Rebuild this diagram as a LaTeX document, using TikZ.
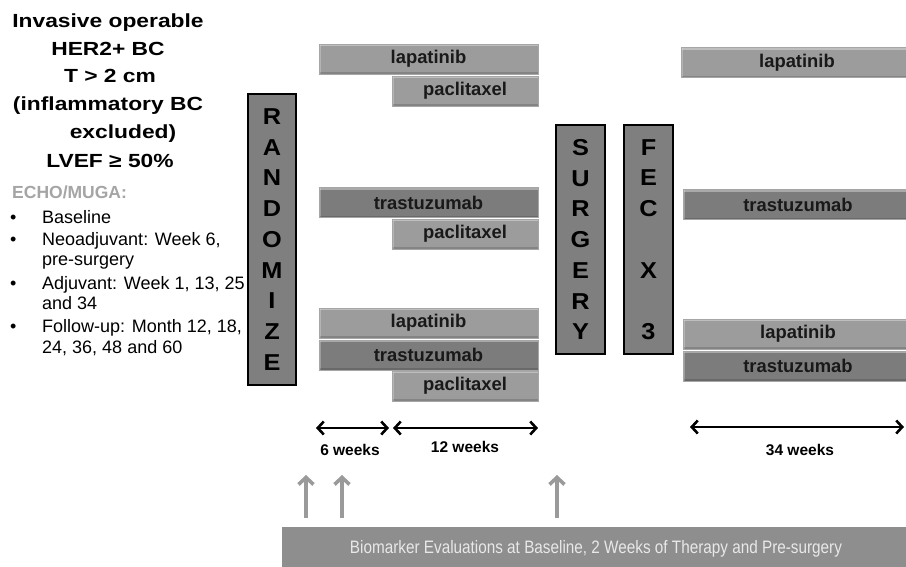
\documentclass[tikz,border=0pt]{standalone}
\usepackage{fontspec}
\setmainfont{Liberation Sans}
\newfontfamily\titlefont[FakeStretch=1.2]{Liberation Sans}
\newfontfamily\letterfont[FakeStretch=1.1]{Liberation Sans}
\newfontfamily\condfont[FakeStretch=0.85]{Liberation Sans}
\usetikzlibrary{arrows.meta}
\definecolor{barlight}{HTML}{9C9C9C}
\definecolor{bardark}{HTML}{7C7C7C}
\definecolor{boxfill}{HTML}{7F7F7F}
\definecolor{biofill}{HTML}{8E8E8E}
\definecolor{upgray}{HTML}{9A9A9A}
\definecolor{echogray}{HTML}{A5A5A5}
\definecolor{biotext}{HTML}{E8E8E8}
\begin{document}
\begin{tikzpicture}[x=1pt,y=-1pt,
  drugbar/.style={rectangle, draw=black!35, line width=0.8pt, fill=#1, inner sep=0pt,
    font=\fontsize{18.4}{20}\selectfont\bfseries, text=black!90, minimum height=30pt,
    path picture={
      \draw[white, opacity=0.35, line width=2pt]
        ([yshift=-1pt]path picture bounding box.north west) -- ([yshift=-1pt]path picture bounding box.north east);
      \draw[white, opacity=0.25, line width=2pt]
        ([xshift=1pt]path picture bounding box.north west) -- ([xshift=1pt]path picture bounding box.south west);
      \draw[black, opacity=0.15, line width=2pt]
        ([yshift=1pt]path picture bounding box.south west) -- ([yshift=1pt]path picture bounding box.south east);}},
  letterbox/.style={rectangle, draw=black, line width=2pt, fill=boxfill, inner sep=0pt,
    align=center, font=\letterfont\bfseries\fontsize{23}{30.75}\selectfont, text=black},
  titleline/.style={anchor=base, inner sep=0pt, font=\titlefont\bfseries\fontsize{19}{22}\selectfont},
  listtext/.style={anchor=base west, inner sep=0pt, font=\fontsize{18}{20}\selectfont},
  weeklabel/.style={anchor=center, inner sep=0pt, font=\bfseries\fontsize{15.5}{17}\selectfont},
  dblarrow/.style={{Straight Barb[length=6pt,width=13pt]}-{Straight Barb[length=6pt,width=13pt]}, line width=2.6pt, draw=black},
  uparrow/.style={-{Straight Barb[length=7pt,width=15pt]}, line width=3.6pt, draw=upgray}
]
\useasboundingbox (0,0) rectangle (906,566);
\fill[white] (0,0) rectangle (906,566);
\clip (0,0) rectangle (906,566);

% Title block
\node[titleline] (t1) at (108,27) {Invasive operable};
\node[titleline] (t2) at (108,55) {HER2+ BC};
\node[titleline] (t3) at (110,82) {T > 2 cm};
\node[titleline] (t4) at (108,110) {(inflammatory BC};
\node[titleline] (t5) at (123,138) {excluded)};
\node[titleline] (t6) at (110,167) {LVEF ≥ 50\%};

% ECHO/MUGA list
\node[anchor=base west, inner sep=0pt, font=\bfseries\fontsize{17.5}{20}\selectfont, text=echogray] (echo) at (12,198) {ECHO/MUGA:};
\node[listtext] (b1) at (10,223) {•};
\node[listtext] (l1) at (42,223) {Baseline};
\node[listtext] (b2) at (10,245) {•};
\node[listtext] (l2) at (42,245) {Neoadjuvant: Week 6,};
\node[listtext] (l2b) at (42,265) {pre-surgery};
\node[listtext] (b3) at (10,289) {•};
\node[listtext] (l3) at (42,289) {Adjuvant: Week 1, 13, 25};
\node[listtext] (l3b) at (42,309) {and 34};
\node[listtext] (b4) at (10,332) {•};
\node[listtext] (l4) at (42,332) {Follow-up: Month 12, 18,};
\node[listtext] (l4b) at (42,353) {24, 36, 48 and 60};

% Vertical boxes
\node[letterbox, minimum width=48pt, minimum height=291pt] (rand) at (272,239.5)
  {R\\A\\N\\D\\O\\M\\I\\Z\\E};
\node[letterbox, minimum width=49pt, minimum height=229pt] (surg) at (580.5,239.5)
  {S\\U\\R\\G\\E\\R\\Y};
\node[letterbox, minimum width=49pt, minimum height=229pt] (fec) at (648.5,239.5)
  {F\\E\\C\\[30.75pt]X\\[30.75pt]3};

% Neoadjuvant arms
\node[drugbar=barlight, minimum width=219pt] (a1) at (428.5,59) {lapatinib};
\node[drugbar=barlight, minimum width=146pt] (a2) at (465,91) {paclitaxel};
\node[drugbar=bardark, minimum width=219pt] (bb1) at (428.5,202.5) {trastuzumab};
\node[drugbar=barlight, minimum width=146pt] (bb2) at (465,234) {paclitaxel};
\node[drugbar=barlight, minimum width=219pt] (c1) at (428.5,323) {lapatinib};
\node[drugbar=bardark, minimum width=219pt] (c2) at (428.5,355) {trastuzumab};
\node[drugbar=barlight, minimum width=146pt] (c3) at (465,386) {paclitaxel};

% Adjuvant arms
\node[drugbar=barlight, minimum width=232pt] (r1) at (797,62.5) {lapatinib};
\node[drugbar=bardark, minimum width=230pt] (r2) at (798,204.5) {trastuzumab};
\node[drugbar=barlight, minimum width=230pt] (r3) at (798,334) {lapatinib};
\node[drugbar=bardark, minimum width=230pt] (r4) at (798,366) {trastuzumab};

% Duration arrows
\coordinate (w6l) at (316,428);
\coordinate (w6r) at (389,428);
\coordinate (w12l) at (393,428);
\coordinate (w12r) at (538,428);
\coordinate (w34l) at (690,427);
\coordinate (w34r) at (904,427);
\draw[dblarrow] (w6l) -- (w6r);
\draw[dblarrow] (w12l) -- (w12r);
\draw[dblarrow] (w34l) -- (w34r);
\node[weeklabel] (lab6) at (350,450) {6 weeks};
\node[weeklabel] (lab12) at (465,447) {12 weeks};
\node[weeklabel] (lab34) at (800,450) {34 weeks};

% Biomarker bar
\node[rectangle, fill=biofill, inner sep=0pt, minimum width=628pt, minimum height=43pt,
  text=biotext, font=\condfont\fontsize{18}{20}\selectfont] (bio) at (596,548.5)
  {Biomarker Evaluations at Baseline, 2 Weeks of Therapy and Pre-surgery};

\coordinate (u1) at (306,475);
\coordinate (u2) at (342,475);
\coordinate (u3) at (557,475);
\draw[uparrow] ([yshift=9pt]bio.north -| u1) -- (u1);
\draw[uparrow] ([yshift=9pt]bio.north -| u2) -- (u2);
\draw[uparrow] ([yshift=9pt]bio.north -| u3) -- (u3);
\end{tikzpicture}
\end{document}
